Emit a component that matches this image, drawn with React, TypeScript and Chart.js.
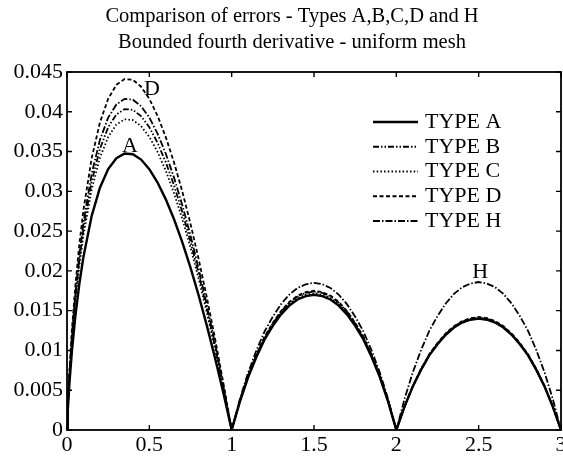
import { useEffect, useRef } from 'react';
import { Chart, registerables } from 'chart.js';

Chart.register(...registerables);

const titleLines = ['Comparison of errors - Types A,B,C,D and H', 'Bounded fourth derivative - uniform mesh'];
const seriesNames = ['TYPE A', 'TYPE B', 'TYPE C', 'TYPE D', 'TYPE H'];
const xTickLabels = ['0', '0.5', '1', '1.5', '2', '2.5', '3'];
const yTickLabels = ['0', '0.005', '0.01', '0.015', '0.02', '0.025', '0.03', '0.035', '0.04', '0.045'];

const xValues = [
  0, 0.005, 0.015, 0.03, 0.05, 0.075, 0.1, 0.15, 0.2, 0.25, 0.3, 0.35, 0.4, 0.45, 0.5, 0.55, 0.6, 0.65, 0.7, 0.75, 0.8, 0.85, 0.9, 0.95, 1,
  1.05, 1.1, 1.15, 1.2, 1.25, 1.3, 1.35, 1.4, 1.45, 1.5, 1.55, 1.6, 1.65, 1.7, 1.75, 1.8, 1.85, 1.9, 1.95, 2,
  2.05, 2.1, 2.15, 2.2, 2.25, 2.3, 2.35, 2.4, 2.45, 2.5, 2.55, 2.6, 2.65, 2.7, 2.75, 2.8, 2.85, 2.9, 2.95, 3,
];

const typeA = [
  0, 0.00251, 0.00596, 0.00995, 0.01417, 0.01838, 0.02179, 0.02692, 0.03045, 0.03279, 0.03417, 0.03476, 0.03467, 0.03399, 0.03279, 0.0311, 0.02899, 0.02649, 0.02362, 0.02041, 0.01689, 0.01306, 0.00897, 0.00461, 0,
  0.00357, 0.00663, 0.00918, 0.01139, 0.01309, 0.01454, 0.01564, 0.01641, 0.01683, 0.017, 0.01683, 0.01641, 0.01564, 0.01454, 0.01309, 0.01139, 0.00918, 0.00663, 0.00357, 0,
  0.00294, 0.00546, 0.00756, 0.00938, 0.01078, 0.01197, 0.01288, 0.01351, 0.01386, 0.014, 0.01386, 0.01351, 0.01288, 0.01197, 0.01078, 0.00938, 0.00756, 0.00546, 0.00294, 0,
];
const typeB = [
  0, 0.00291, 0.00692, 0.01155, 0.01645, 0.02133, 0.02529, 0.03125, 0.03534, 0.03806, 0.03966, 0.04034, 0.04024, 0.03945, 0.03806, 0.0361, 0.03365, 0.03074, 0.02742, 0.02369, 0.0196, 0.01516, 0.01041, 0.00535, 0,
  0.00365, 0.00679, 0.0094, 0.01166, 0.0134, 0.01488, 0.01601, 0.01679, 0.01723, 0.0174, 0.01723, 0.01679, 0.01601, 0.01488, 0.0134, 0.01166, 0.0094, 0.00679, 0.00365, 0,
  0.00296, 0.0055, 0.00761, 0.00945, 0.01086, 0.01206, 0.01297, 0.01361, 0.01396, 0.0141, 0.01396, 0.01361, 0.01297, 0.01206, 0.01086, 0.00945, 0.00761, 0.0055, 0.00296, 0,
];
const typeC = [
  0, 0.00282, 0.0067, 0.01118, 0.01592, 0.02065, 0.02448, 0.03025, 0.03422, 0.03684, 0.0384, 0.03905, 0.03896, 0.03819, 0.03684, 0.03495, 0.03258, 0.02976, 0.02654, 0.02294, 0.01897, 0.01468, 0.01008, 0.00518, 0,
  0.00361, 0.00671, 0.00929, 0.01152, 0.01324, 0.01471, 0.01582, 0.0166, 0.01703, 0.0172, 0.01703, 0.0166, 0.01582, 0.01471, 0.01324, 0.01152, 0.00929, 0.00671, 0.00361, 0,
  0.00296, 0.0055, 0.00761, 0.00945, 0.01086, 0.01206, 0.01297, 0.01361, 0.01396, 0.0141, 0.01396, 0.01361, 0.01297, 0.01206, 0.01086, 0.00945, 0.00761, 0.0055, 0.00296, 0,
];
const typeD = [
  0, 0.00318, 0.00757, 0.01263, 0.01799, 0.02334, 0.02766, 0.03418, 0.03866, 0.04163, 0.04338, 0.04412, 0.04402, 0.04315, 0.04163, 0.03949, 0.03681, 0.03363, 0.02999, 0.02592, 0.02144, 0.01659, 0.01139, 0.00585, 0,
  0.00368, 0.00683, 0.00945, 0.01173, 0.01348, 0.01496, 0.0161, 0.01689, 0.01733, 0.0175, 0.01733, 0.01689, 0.0161, 0.01496, 0.01348, 0.01173, 0.00945, 0.00683, 0.00368, 0,
  0.00298, 0.00554, 0.00767, 0.00951, 0.01093, 0.01214, 0.01306, 0.0137, 0.01406, 0.0142, 0.01406, 0.0137, 0.01306, 0.01214, 0.01093, 0.00951, 0.00767, 0.00554, 0.00298, 0,
];
const typeH = [
  0, 0.003, 0.00714, 0.01192, 0.01697, 0.02201, 0.02609, 0.03224, 0.03647, 0.03927, 0.04092, 0.04163, 0.04152, 0.04071, 0.03927, 0.03725, 0.03473, 0.03172, 0.02829, 0.02445, 0.02022, 0.01565, 0.01074, 0.00552, 0,
  0.00389, 0.00722, 0.00999, 0.0124, 0.01425, 0.01582, 0.01702, 0.01785, 0.01832, 0.0185, 0.01832, 0.01785, 0.01702, 0.01582, 0.01425, 0.0124, 0.00999, 0.00722, 0.00389, 0,
  0.00391, 0.00725, 0.01004, 0.01246, 0.01432, 0.0159, 0.01711, 0.01795, 0.01841, 0.0186, 0.01841, 0.01795, 0.01711, 0.0159, 0.01432, 0.01246, 0.01004, 0.00725, 0.00391, 0,
];

const seriesValues = [typeA, typeB, typeC, typeD, typeH];

const curveLabelText = ['A', 'D', 'H'];
const curveLabelX = [0.383, 0.516, 2.51];
const curveLabelY = [0.035, 0.0421, 0.0191];

const FONT = 'Liberation Serif';
const dashes: number[][] = [[], [6, 2, 1.5, 2, 1.5, 2], [1.5, 2.2], [4, 2.5], [7, 2, 1.5, 2]];
const widths = [2.4, 1.8, 1.8, 1.8, 1.8];

const marksPlugin = {
  id: 'marks',
  afterDraw(chart: any) {
    const { ctx, chartArea: a, scales } = chart;
    const xs = scales.x;
    const ys = scales.y;
    ctx.save();
    ctx.strokeStyle = '#000';
    ctx.fillStyle = '#000';
    ctx.setLineDash([]);

    // title
    ctx.font = `20.5px "${FONT}"`;
    ctx.textAlign = 'center';
    ctx.textBaseline = 'alphabetic';
    titleLines.forEach((line, i) => ctx.fillText(line, 292, 22 + i * 26));

    // frame and inward ticks
    ctx.lineWidth = 1.8;
    ctx.strokeRect(a.left, a.top, a.right - a.left, a.bottom - a.top);
    const tl = 5;
    ctx.beginPath();
    ctx.lineWidth = 1.4;
    xs.ticks.forEach((t: any) => {
      const px = xs.getPixelForValue(t.value);
      ctx.moveTo(px, a.bottom);
      ctx.lineTo(px, a.bottom - tl);
      ctx.moveTo(px, a.top);
      ctx.lineTo(px, a.top + tl);
    });
    ys.ticks.forEach((t: any) => {
      const py = ys.getPixelForValue(t.value);
      ctx.moveTo(a.left, py);
      ctx.lineTo(a.left + tl, py);
      ctx.moveTo(a.right, py);
      ctx.lineTo(a.right - tl, py);
    });
    ctx.stroke();

    // legend
    ctx.font = `22px "${FONT}"`;
    ctx.textAlign = 'left';
    ctx.textBaseline = 'middle';
    chart.data.datasets.forEach((ds: any, i: number) => {
      const y = 122 + i * 24.75;
      ctx.beginPath();
      ctx.lineWidth = ds.borderWidth;
      ctx.setLineDash(ds.borderDash || []);
      ctx.moveTo(373, y);
      ctx.lineTo(418, y);
      ctx.stroke();
      ctx.fillText(ds.label, 425, y);
    });

    // curve labels
    ctx.setLineDash([]);
    ctx.textAlign = 'center';
    ctx.textBaseline = 'alphabetic';
    curveLabelText.forEach((txt, i) => {
      ctx.fillText(txt, xs.getPixelForValue(curveLabelX[i]), ys.getPixelForValue(curveLabelY[i]));
    });
    ctx.restore();
  },
};

export default function App() {
  const ref = useRef<HTMLCanvasElement>(null);
  useEffect(() => {
    const canvas = ref.current!;
    const chart = new Chart(canvas, {
      type: 'line',
      data: {
        datasets: seriesNames.map((name, i) => ({
          label: name,
          data: xValues.map((x, j) => ({ x, y: seriesValues[i][j] })),
          borderColor: '#000',
          borderWidth: widths[i],
          borderDash: dashes[i],
          pointRadius: 0,
          tension: 0,
          fill: false,
        })),
      },
      options: {
        animation: false,
        responsive: false,
        layout: { padding: { left: 0, right: 22, top: 72, bottom: 0 } },
        plugins: {
          legend: { display: false },
          tooltip: { enabled: false },
          title: { display: false },
        },
        scales: {
          x: {
            type: 'linear',
            min: 0,
            max: 3,
            grid: { display: false, drawTicks: false },
            border: { display: false },
            ticks: {
              stepSize: 0.5,
              padding: 2,
              color: '#000',
              autoSkip: false,
              maxRotation: 0,
              font: { family: FONT, size: 22 },
              callback: (v: any, i: number) => xTickLabels[i] ?? String(v),
            },
            afterFit: (s: any) => {
              s.height = 27;
            },
          },
          y: {
            type: 'linear',
            min: 0,
            max: 0.045,
            grid: { display: false, drawTicks: false },
            border: { display: false },
            ticks: {
              stepSize: 0.005,
              padding: 4,
              color: '#000',
              autoSkip: false,
              font: { family: FONT, size: 22 },
              callback: (v: any, i: number) => yTickLabels[i] ?? String(v),
            },
            afterFit: (s: any) => {
              s.width = 67;
            },
          },
        },
      },
      plugins: [marksPlugin],
    } as any);
    return () => chart.destroy();
  }, []);
  return (
    <div style={{ position: 'fixed', left: 0, top: 0, width: 563, height: 457, overflow: 'hidden', background: '#fff' }}>
      <canvas ref={ref} width={583} height={457} style={{ display: 'block', width: 583, height: 457 }} />
    </div>
  );
}
